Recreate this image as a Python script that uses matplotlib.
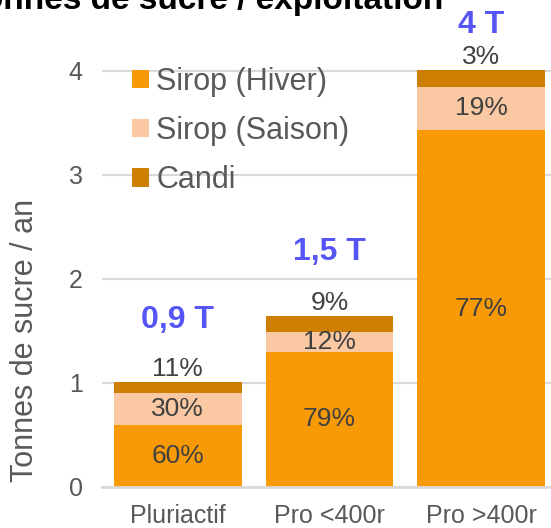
import matplotlib
matplotlib.use('Agg')
import matplotlib.pyplot as plt
import numpy as np

# données
categories = ['Pluriactif', 'Pro <400r', 'Pro >400r']
hiver = [0.60, 1.30, 3.43]
saison = [0.30, 0.19, 0.42]
candi = [0.11, 0.15, 0.16]
pct_hiver = ['60%', '79%', '77%']
pct_saison = ['30%', '12%', '19%']
pct_candi = ['11%', '9%', '3%']
totaux = ['0,9 T', '1,5 T', '4 T']
series_names = ['Sirop (Hiver)', 'Sirop (Saison)', 'Candi']

# style
plt.rcParams['font.family'] = ['Liberation Sans', 'DejaVu Sans']
gris = '#595959'
c_hiver = '#F89A06'
c_saison = '#FAC8A2'
c_candi = '#CE7E02'
bleu = '#5555F5'
total_offset = [0.60, 0.62, 0.43]   # décalage des étiquettes bleues au-dessus des barres

fig = plt.figure(figsize=(5.51, 5.28), dpi=100)
ax = fig.add_axes([102/551, 41/528, 455/551, 4.4*104/528])

x = np.arange(len(categories))
w = 0.84
hiver = np.array(hiver)
saison = np.array(saison)
candi = np.array(candi)
ax.bar(x, hiver, w, color=c_hiver, label=series_names[0], zorder=2)
ax.bar(x, saison, w, bottom=hiver, color=c_saison, label=series_names[1], zorder=2)
ax.bar(x, candi, w, bottom=hiver + saison, color=c_candi, label=series_names[2], zorder=2)

top = hiver + saison + candi
for i in range(len(x)):
    ax.text(x[i], hiver[i] / 2, pct_hiver[i], ha='center', va='center',
            fontsize=19, color='#404040', zorder=3)
    ax.text(x[i], hiver[i] + saison[i] / 2, pct_saison[i], ha='center', va='center',
            fontsize=19, color='#404040', zorder=3)
    ax.text(x[i], top[i] + 0.01, pct_candi[i], ha='center', va='bottom',
            fontsize=19, color='#404040', zorder=3)
    ax.text(x[i], top[i] + total_offset[i], totaux[i], ha='center', va='center',
            fontsize=23, fontweight='bold', color=bleu, zorder=3, clip_on=False)

ax.set_xlim(-0.5, 2.5)
ax.set_ylim(0, 4.4)
ax.set_yticks([0, 1, 2, 3, 4])
ax.set_xticks(x)
ax.set_xticklabels(categories)
ax.tick_params(axis='both', length=0, labelsize=18, labelcolor=gris)
ax.tick_params(axis='x', pad=12.5)
ax.tick_params(axis='y', pad=14)
ax.yaxis.grid(True, color='#D9D9D9', lw=1.5, zorder=0)
for s in ['top', 'right', 'left']:
    ax.spines[s].set_visible(False)
ax.spines['bottom'].set_color('#D9D9D9')
ax.spines['bottom'].set_linewidth(2)

leg = ax.legend(loc='upper left', bbox_to_anchor=(0.039, 0.945), frameon=False,
                fontsize=22, handlelength=0.55, handleheight=0.55, handletextpad=0.25,
                labelspacing=0.63, borderaxespad=0)
for t in leg.get_texts():
    t.set_color(gris)

fig.text(25/551, 1 - 340/528, 'Tonnes de sucre / an', rotation=90, ha='center', va='center',
         fontsize=22, color=gris)
fig.text(443/551, 1 - 9/528, 'Tonnes de sucre / exploitation', ha='right', va='baseline',
         fontsize=24, fontweight='bold', color='black')

fig.savefig('out.png', dpi=100)
